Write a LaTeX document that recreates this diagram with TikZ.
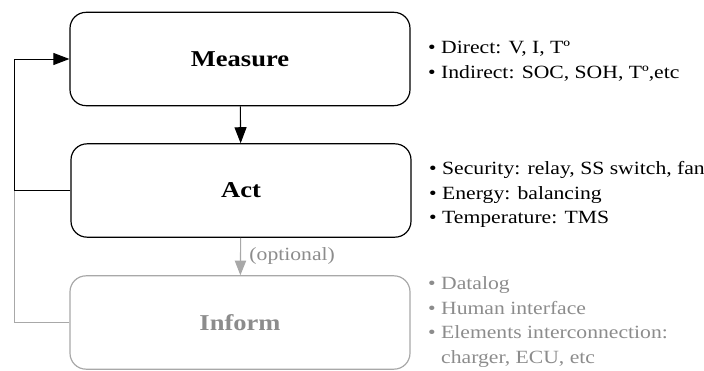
\documentclass[tikz,border=0pt]{standalone}
\usepackage{fontspec}
\setmainfont{Liberation Serif}
\newfontfamily\notefont[FakeStretch=1.16]{Liberation Serif}
\newfontfamily\stagefont[FakeStretch=1.17]{Liberation Serif}
\usetikzlibrary{arrows.meta,positioning}

\definecolor{faded}{HTML}{A8A8A8}
\definecolor{fadedtext}{HTML}{8C8C8C}

\tikzset{
  stage/.style={draw, line width=0.9pt, rounded corners=12pt,
    minimum width=255pt, minimum height=70pt,
    font=\stagefont\bfseries\fontsize{17}{20}\selectfont},
  notes/.style={anchor=west, align=left, inner sep=0pt,
    font=\notefont\fontsize{14}{18.4}\selectfont},
  flow/.style={->, line width=0.8pt},
}

\begin{document}
\begin{tikzpicture}[x=0.75pt, y=-0.75pt, >={Triangle[length=12pt,width=9pt]}]
    \useasboundingbox (0,0) rectangle (704,371);

    % the three stages
    \node[stage] (measure) at (240,59) {Measure};
    \node[stage] (act) at (241,190.5) {Act};
    \node[stage, draw=faded, text=fadedtext] (inform) at (240,322.5) {Inform};

    % what each stage covers
    \node[notes, right=13pt of measure, yshift=-1.5pt] (measurenotes)
        {\textbullet\ Direct: V, I, Tº\\
         \textbullet\ Indirect: SOC, SOH, Tº,etc};
    \node[notes, right=13pt of act, yshift=-3pt] (actnotes)
        {\textbullet\ Security: relay, SS switch, fan\\
         \textbullet\ Energy: balancing\\
         \textbullet\ Temperature: TMS};
    \node[notes, right=13pt of inform, yshift=0.5pt, text=fadedtext] (informnotes)
        {\textbullet\ Datalog\\
         \textbullet\ Human interface\\
         \textbullet\ Elements interconnection:\\
         \phantom{\textbullet\ }charger, ECU, etc};

    % main flow
    \draw[flow] (measure) -- (act);
    \draw[flow, faded, >={Triangle[length=11pt,width=8.5pt]}] (act) -- (inform)
        node[midway, right=3pt, text=fadedtext, font=\notefont\fontsize{14}{16}\selectfont]
        {(optional)};

    % loop back to measuring
    \coordinate (loop) at (14,190.5);
    \draw[flow, line width=0.7pt] (act.west) -- (loop) |- (measure.west);
    \draw[faded, line width=0.7pt] (inform.west) -| (loop);
\end{tikzpicture}
\end{document}
